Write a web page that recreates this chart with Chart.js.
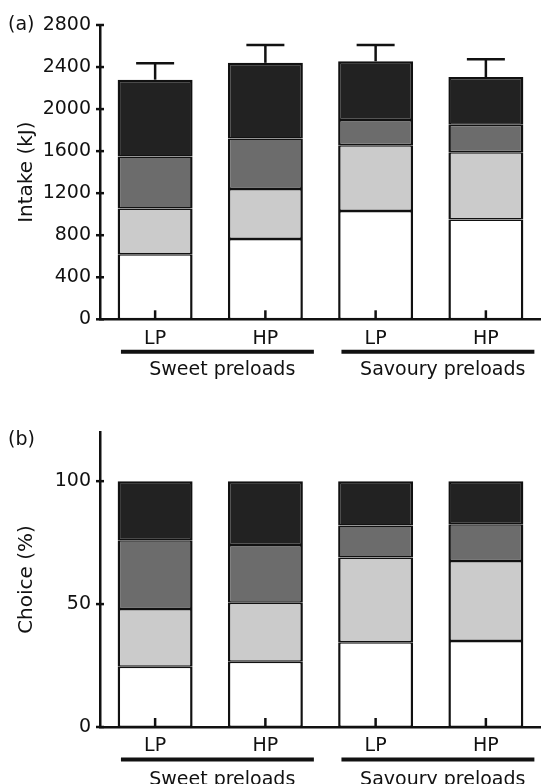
<!DOCTYPE html>
<html>
<head>
<meta charset="utf-8">
<script src="https://cdn.jsdelivr.net/npm/chart.js@4"></script>
<style>
  body { margin: 0; background: #fff; }
  #wrapA { position: absolute; left: 0; top: 0; }
  #wrapB { position: absolute; left: 0; top: 390px; }
</style>
</head>
<body>
<div id="wrapA"><canvas id="intakeChart" width="541" height="384"></canvas></div>
<div id="wrapB"><canvas id="choiceChart" width="541" height="394"></canvas></div>
<script>
const categories = ['LP', 'HP', 'LP', 'HP'];
const groups = ['Sweet preloads', 'Savoury preloads'];

// (a) energy intake, kJ, stacked bottom to top
const intakeWhite = [620, 765, 1030, 950];
const intakeLight = [435, 475, 625, 640];
const intakeMid = [495, 480, 240, 260];
const intakeDark = [730, 720, 560, 455];
const intakeErr = [155, 170, 155, 170];
const intakeTicks = [0, 400, 800, 1200, 1600, 2000, 2400, 2800];

// (b) choice, %
const choiceWhite = [24.5, 26.5, 34.5, 35];
const choiceLight = [23.5, 24, 34.5, 32.5];
const choiceMid = [28, 23.5, 13, 15];
const choiceDark = [24, 26, 18, 17.5];
const choiceTicks = [0, 50, 100];

const FONT = 'DejaVu Sans';
const INK = '#111';

function line(ctx, x0, y0, x1, y1) {
  ctx.beginPath();
  ctx.moveTo(x0, y0);
  ctx.lineTo(x1, y1);
  ctx.stroke();
}

// axis ticks, group bars, error bars and panel letter
const decor = {
  id: 'decor',
  afterDraw(chart, args, opts) {
    const ctx = chart.ctx, xs = chart.scales.x, ys = chart.scales.y, a = chart.chartArea;
    const catW = (a.right - a.left) / categories.length;
    ctx.save();
    ctx.strokeStyle = INK;
    ctx.lineWidth = 2.5;
    ys.ticks.forEach(t => {
      const py = ys.getPixelForValue(t.value);
      line(ctx, a.left - 4, py, a.left + 4, py);
    });
    categories.forEach((c, i) => {
      const px = xs.getPixelForValue(i);
      line(ctx, px, a.bottom, px, a.bottom - 9);
    });

    if (opts.err) {
      const sets = chart.data.datasets;
      const top = chart.getDatasetMeta(sets.length - 1);
      opts.err.forEach((e, i) => {
        const total = sets.reduce((s, d) => s + d.data[i], 0);
        const px = top.data[i].x;
        const y0 = ys.getPixelForValue(total), y1 = ys.getPixelForValue(total + e);
        line(ctx, px, y0, px, y1);
        line(ctx, px - 19, y1, px + 19, y1);
      });
    }

    ctx.lineWidth = 4;
    ctx.fillStyle = INK;
    ctx.font = '19px "' + FONT + '"';
    ctx.textAlign = 'center';
    ctx.textBaseline = 'top';
    groups.forEach((g, k) => {
      const xa = xs.getPixelForValue(2 * k), xb = xs.getPixelForValue(2 * k + 1);
      line(ctx, xa - 0.31 * catW, a.bottom + 32.5, xb + 0.44 * catW, a.bottom + 32.5);
      ctx.fillText(g, (xa + xb) / 2 + 12, a.bottom + opts.groupTextY);
    });

    ctx.textAlign = 'left';
    ctx.textBaseline = 'middle';
    ctx.fillText(opts.letter, 8, opts.letterY);
    ctx.restore();
  }
};

function stackedBar(canvasId, series, ticks, yMax, title, padTop, xAxisH, decorOpts) {
  const fills = ['#ffffff', '#cbcbcb', '#6c6c6c', '#222222'];
  return new Chart(document.getElementById(canvasId), {
    type: 'bar',
    data: {
      labels: categories,
      datasets: series.map((s, i) => ({
        data: s,
        backgroundColor: fills[i],
        borderColor: INK,
        borderWidth: { left: 2.5, right: 2.5, top: i === series.length - 1 ? 2.5 : 1.5, bottom: 1.5 },
        borderSkipped: false,
        barPercentage: 0.68,
        categoryPercentage: 1
      }))
    },
    options: {
      responsive: false,
      animation: false,
      layout: { padding: { top: padTop, right: 0, bottom: 0, left: 0 } },
      plugins: { legend: { display: false }, tooltip: { enabled: false }, decor: decorOpts },
      scales: {
        x: {
          stacked: true,
          grid: { display: false, drawTicks: false },
          border: { display: true, color: INK, width: 2.5 },
          ticks: { color: INK, font: { family: FONT, size: 19 }, padding: 8, maxRotation: 0 },
          afterFit: s => { s.height = xAxisH; }
        },
        y: {
          stacked: true,
          min: 0,
          max: yMax,
          grid: { display: false, drawTicks: false },
          border: { display: true, color: INK, width: 2.5 },
          ticks: { color: INK, font: { family: FONT, size: 19 }, padding: 9, callback: v => String(v) },
          afterBuildTicks: s => { s.ticks = ticks.map(v => ({ value: v })); },
          title: { display: true, text: title, color: INK, font: { family: FONT, size: 20 }, padding: { top: 15, bottom: 0 } },
          afterFit: s => { s.width = 100; }
        }
      }
    },
    plugins: [decor]
  });
}

stackedBar('intakeChart', [intakeWhite, intakeLight, intakeMid, intakeDark], intakeTicks, 2800,
  'Intake (kJ)', 25, 64.7, { err: intakeErr, letter: '(a)', letterY: 25, groupTextY: 41 });

stackedBar('choiceChart', [choiceWhite, choiceLight, choiceMid, choiceDark], choiceTicks, 120,
  'Choice (%)', 42, 57, { letter: '(b)', letterY: 50, groupTextY: 44 });
</script>
</body>
</html>
